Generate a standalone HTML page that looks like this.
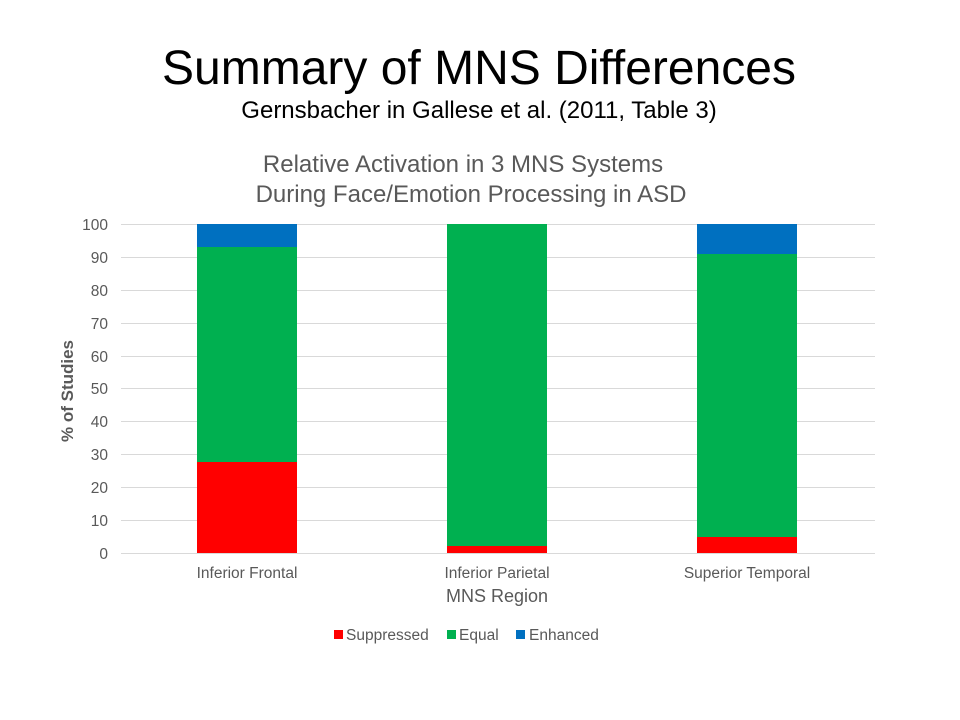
<!DOCTYPE html>
<html><head><meta charset="utf-8"><style>
html,body{margin:0;padding:0;background:#fff;}
svg{display:block;font-family:"Liberation Sans",Arial,sans-serif;}
</style></head><body>
<svg width="960" height="720" viewBox="0 0 960 720" xmlns="http://www.w3.org/2000/svg">
<rect width="960" height="720" fill="#fff"/>
<text x="479" y="84" font-size="48" text-anchor="middle" fill="#000">Summary of MNS Differences</text>
<text x="479" y="118" font-size="24" text-anchor="middle" fill="#000">Gernsbacher in Gallese et al. (2011, Table 3)</text>
<text x="463" y="172" font-size="24" text-anchor="middle" fill="#595959">Relative Activation in 3 MNS Systems</text>
<text x="471" y="202" font-size="24" text-anchor="middle" fill="#595959">During Face/Emotion Processing in ASD</text>
<g stroke="#d9d9d9" stroke-width="1">
<line x1="121" x2="875" y1="224.5" y2="224.5"/>
<line x1="121" x2="875" y1="257.5" y2="257.5"/>
<line x1="121" x2="875" y1="290.5" y2="290.5"/>
<line x1="121" x2="875" y1="323.5" y2="323.5"/>
<line x1="121" x2="875" y1="356.5" y2="356.5"/>
<line x1="121" x2="875" y1="388.5" y2="388.5"/>
<line x1="121" x2="875" y1="421.5" y2="421.5"/>
<line x1="121" x2="875" y1="454.5" y2="454.5"/>
<line x1="121" x2="875" y1="487.5" y2="487.5"/>
<line x1="121" x2="875" y1="520.5" y2="520.5"/>
<line x1="121" x2="875" y1="553.5" y2="553.5"/>
</g>
<g font-size="15.5" fill="#595959" text-anchor="end">
<text x="108" y="230">100</text><text x="108" y="263">90</text><text x="108" y="296">80</text>
<text x="108" y="329">70</text><text x="108" y="362">60</text><text x="108" y="394">50</text>
<text x="108" y="427">40</text><text x="108" y="460">30</text><text x="108" y="493">20</text>
<text x="108" y="526">10</text><text x="108" y="559">0</text>
</g>
<rect x="197" y="224" width="100" height="23" fill="#0070c0"/>
<rect x="197" y="247" width="100" height="215" fill="#00b050"/>
<rect x="197" y="462" width="100" height="91" fill="#ff0000"/>
<rect x="447" y="224" width="100" height="322" fill="#00b050"/>
<rect x="447" y="546" width="100" height="7" fill="#ff0000"/>
<rect x="697" y="224" width="100" height="30" fill="#0070c0"/>
<rect x="697" y="254" width="100" height="283" fill="#00b050"/>
<rect x="697" y="537" width="100" height="16" fill="#ff0000"/>
<g font-size="15.5" fill="#595959" text-anchor="middle">
<text x="247" y="578">Inferior Frontal</text>
<text x="497" y="578">Inferior Parietal</text>
<text x="747" y="578">Superior Temporal</text>
</g>
<text x="497" y="602" font-size="18" text-anchor="middle" fill="#595959">MNS Region</text>
<text transform="translate(73,391) rotate(-90)" font-size="17" font-weight="bold" text-anchor="middle" fill="#595959">% of Studies</text>
<rect x="334" y="630" width="9" height="9" fill="#ff0000"/>
<text x="346" y="640" font-size="15.5" fill="#595959">Suppressed</text>
<rect x="447" y="630" width="9" height="9" fill="#00b050"/>
<text x="459" y="640" font-size="15.5" fill="#595959">Equal</text>
<rect x="516" y="630" width="9" height="9" fill="#0070c0"/>
<text x="529" y="640" font-size="15.5" fill="#595959">Enhanced</text>
</svg>
</body></html>
